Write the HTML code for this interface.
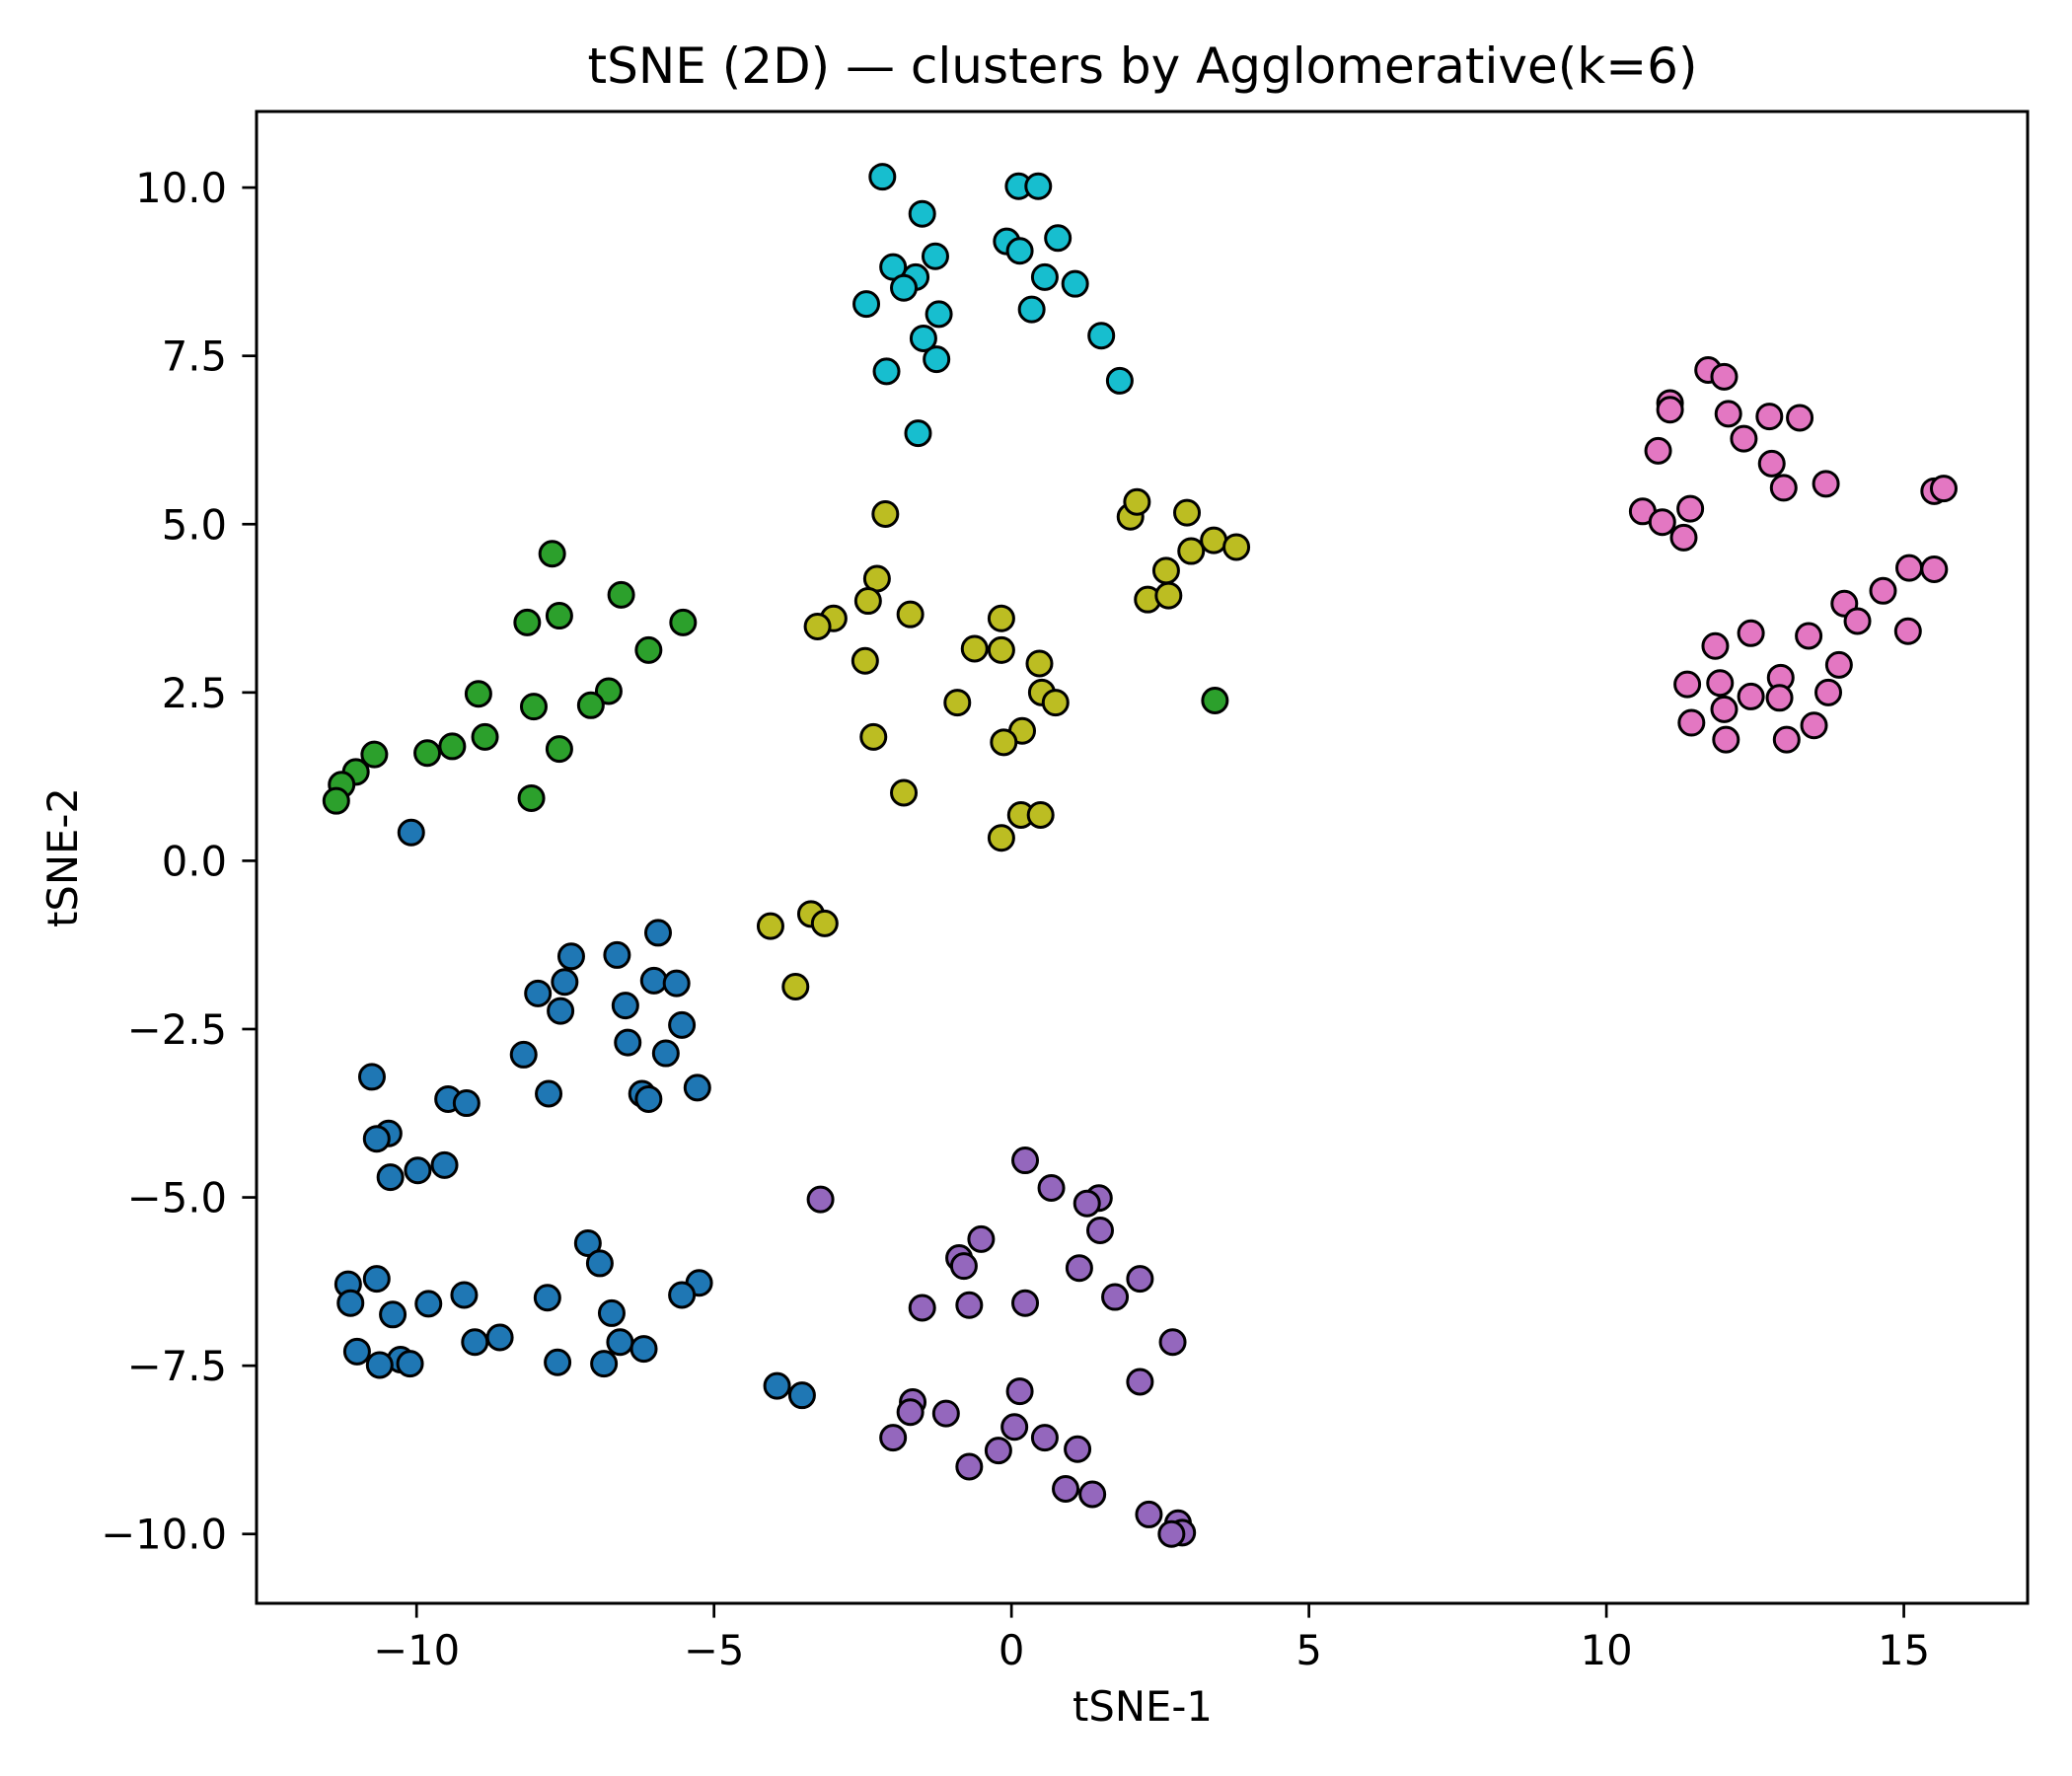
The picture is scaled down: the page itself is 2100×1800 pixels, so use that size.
<!DOCTYPE html>
<html><head><meta charset="utf-8"><style>
html,body{margin:0;padding:0;background:#fff;}
svg{display:block;font-family:"DejaVu Sans","Liberation Sans",sans-serif;}
</style></head><body>
<svg id="chart" width="2100" height="1800" viewBox="0 0 2100 1800" xmlns="http://www.w3.org/2000/svg">
<rect width="2100" height="1800" fill="#fff"/>
<text x="1158" y="84" font-size="50" text-anchor="middle">tSNE (2D) — clusters by Agglomerative(k=6)</text>
<text x="1158" y="1744" font-size="41.7" text-anchor="middle">tSNE-1</text>
<text x="0" y="0" font-size="41.7" text-anchor="middle" transform="translate(78,869) rotate(-90)">tSNE-2</text>
<g id="points"></g>
<g id="axes"></g>
</svg>
<script>
const xTicks = [-10, -5, 0, 5, 10, 15];
const yTicks = [-10, -7.5, -5, -2.5, 0, 2.5, 5, 7.5, 10];
const clusterNames = ["blue","green","olive","cyan","purple","pink"];
const clusterColors = ["#1f77b4","#2ca02c","#bcbd22","#17becf","#9467bd","#e377c2"];
const blueX = [-10.09,-5.94,-7.40,-6.63,-7.51,-6.01,-5.63,-7.96,-7.58,-6.49,-5.54,-6.45,-5.81,-8.20,-7.78,-5.28,-6.21,-6.10,-10.75,-9.47,-9.16,-10.47,-10.67,-10.44,-9.98,-9.53,-7.12,-6.92,-11.15,-10.67,-11.11,-5.25,-5.54,-9.20,-9.80,-7.80,-6.72,-10.40,-11.00,-10.27,-10.62,-10.11,-9.02,-8.60,-7.63,-6.58,-6.18,-6.85,-3.94,-3.52];
const blueY = [0.42,-1.07,-1.42,-1.40,-1.80,-1.78,-1.82,-1.97,-2.23,-2.15,-2.44,-2.70,-2.86,-2.88,-3.46,-3.37,-3.46,-3.54,-3.21,-3.54,-3.60,-4.05,-4.13,-4.70,-4.60,-4.52,-5.68,-5.98,-6.29,-6.21,-6.57,-6.27,-6.45,-6.45,-6.58,-6.49,-6.72,-6.74,-7.29,-7.41,-7.49,-7.47,-7.15,-7.08,-7.45,-7.15,-7.25,-7.47,-7.80,-7.94];
const greenX = [-7.72,-6.56,-7.60,-8.14,-5.52,-6.10,-8.96,-6.77,-7.07,-8.03,-8.85,-9.40,-9.82,-7.60,-10.71,-11.02,-11.26,-11.35,-8.07,3.42];
const greenY = [4.56,3.95,3.64,3.54,3.54,3.13,2.48,2.52,2.31,2.29,1.84,1.70,1.60,1.66,1.58,1.32,1.13,0.89,0.93,2.38];
const oliveX = [-2.12,2.00,2.11,2.95,3.02,3.40,3.78,2.60,2.29,2.64,-2.26,-2.41,-2.99,-3.26,-1.70,-0.17,-2.46,-0.62,-0.17,0.47,0.51,0.74,-0.91,-2.32,0.18,-0.13,-1.81,0.16,0.49,-0.17,-4.05,-3.37,-3.14,-3.63];
const oliveY = [5.15,5.11,5.33,5.17,4.60,4.76,4.66,4.31,3.88,3.94,4.19,3.86,3.60,3.48,3.66,3.60,2.97,3.15,3.13,2.93,2.50,2.35,2.35,1.84,1.93,1.76,1.01,0.68,0.68,0.34,-0.97,-0.79,-0.93,-1.87];
const cyanX = [-2.17,0.12,0.45,-1.50,-1.28,-0.08,0.14,0.78,-1.99,-1.61,-1.81,-2.44,-1.22,0.56,1.07,0.34,-1.48,-1.26,1.51,1.82,-2.10,-1.57];
const cyanY = [10.16,10.02,10.02,9.61,8.98,9.20,9.06,9.25,8.82,8.67,8.51,8.27,8.12,8.67,8.57,8.19,7.76,7.45,7.80,7.13,7.27,6.35];
const purpleX = [-3.21,0.23,0.67,1.47,1.27,1.49,-0.51,-0.88,-0.80,1.14,2.16,1.74,0.23,-0.71,-1.50,2.71,2.16,0.14,-1.66,-1.70,-1.10,0.05,0.56,-1.99,1.11,-0.22,-0.71,0.91,1.36,2.31,2.80,2.87,2.69];
const purpleY = [-5.03,-4.45,-4.86,-5.01,-5.09,-5.49,-5.62,-5.90,-6.02,-6.05,-6.21,-6.48,-6.57,-6.60,-6.64,-7.15,-7.74,-7.88,-8.04,-8.19,-8.21,-8.41,-8.57,-8.57,-8.74,-8.76,-9.00,-9.33,-9.41,-9.71,-9.84,-9.98,-10.0];
const pinkX = [11.07,11.07,11.71,11.98,12.05,12.74,13.25,12.31,12.78,12.98,13.69,10.87,10.61,10.94,11.41,11.30,15.51,15.67,15.09,15.51,14.65,14.00,14.22,15.07,12.43,13.40,11.83,13.91,12.93,11.36,11.91,13.73,12.43,12.91,11.98,11.43,13.49,12.01,13.03];
const pinkY = [6.80,6.70,7.29,7.19,6.64,6.60,6.58,6.27,5.90,5.54,5.60,6.09,5.19,5.03,5.23,4.80,5.49,5.53,4.35,4.33,4.01,3.82,3.56,3.41,3.38,3.34,3.19,2.91,2.72,2.62,2.64,2.50,2.44,2.42,2.25,2.05,2.01,1.80,1.80];

const NS = "http://www.w3.org/2000/svg";
const L = 260, R = 2055, T = 113, B = 1625;
const xMin = -12.69, xMax = 17.08, yMin = -11.03, yMax = 11.13;
function sx(v){ return L + (v - xMin) / (xMax - xMin) * (R - L); }
function sy(v){ return B - (v - yMin) / (yMax - yMin) * (B - T); }
function mk(tag, attrs, parent){ const e = document.createElementNS(NS, tag); for (const k in attrs) e.setAttribute(k, attrs[k]); parent.appendChild(e); return e; }

const pts = document.getElementById("points");
const series = [[blueX,blueY],[greenX,greenY],[oliveX,oliveY],[cyanX,cyanY],[purpleX,purpleY],[pinkX,pinkY]];
series.forEach((s, ci) => {
  const g = mk("g", {}, pts);
  
  
  for (let i = 0; i < s[0].length; i++) {
    const c = mk("circle", {cx: sx(s[0][i]), cy: sy(s[1][i]), r: 12.5, fill: clusterColors[ci], stroke: "#000", "stroke-width": 3}, g);
    
    
  }
});

const ax = document.getElementById("axes");
const frame = mk("rect", {x: L, y: T, width: R - L, height: B - T, fill: "none", stroke: "#000", "stroke-width": 3}, ax);


xTicks.forEach(v => {
  const x = sx(v);
  const t = mk("line", {x1: x, x2: x, y1: B, y2: B + 14.6, stroke: "#000", "stroke-width": 2.7}, ax);
  
  
  const lb = mk("text", {x: x, y: B + 62, "font-size": 41.7, "text-anchor": "middle"}, ax);
  lb.textContent = (v < 0 ? "\u2212" + Math.abs(v) : String(v));
  
  
});
yTicks.forEach(v => {
  const y = sy(v);
  const t = mk("line", {x1: L - 14.6, x2: L, y1: y, y2: y, stroke: "#000", "stroke-width": 2.7}, ax);
  
  
  const lb = mk("text", {x: L - 30, y: y + 15, "font-size": 41.7, "text-anchor": "end"}, ax);
  lb.textContent = (v < 0 ? "\u2212" + Math.abs(v).toFixed(1) : v.toFixed(1));
  
  
});
</script>
</body></html>
